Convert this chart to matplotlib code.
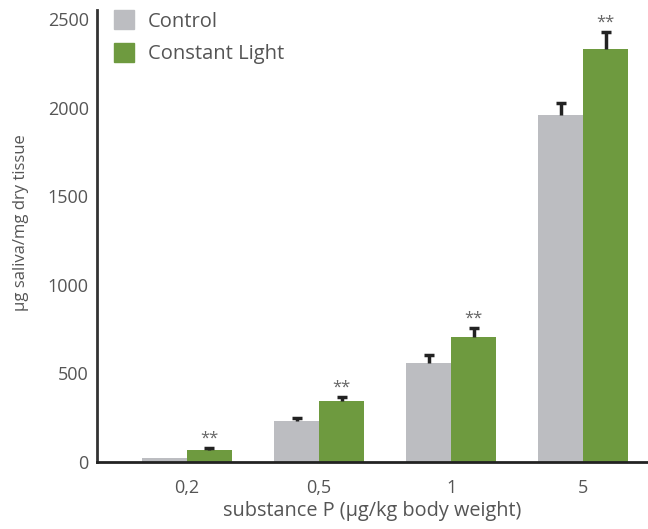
import numpy as np
import matplotlib.pyplot as plt
from matplotlib.patches import Patch

doses = ['0,2', '0,5', '1', '5']
control = [25, 232, 560, 1958]
control_err = [0, 18, 46, 68]
light = [70, 345, 708, 2333]
light_err = [10, 22, 50, 95]
stars = ['**', '**', '**', '**']

grey = '#bcbdc1'
green = '#6e9a3f'
txt = '#555555'

plt.rcParams['font.family'] = ['Open Sans', 'DejaVu Sans']

fig = plt.figure(figsize=(6.48, 5.29), dpi=100)
ax = fig.add_axes([0.150, 0.1267, 0.850, 0.854])

x = np.arange(len(doses))
w = 0.34
ax.bar(x - w / 2, control, w, color=grey, zorder=2)
ax.bar(x + w / 2, light, w, color=green, zorder=2)

# only the upper half of each error bar, like the original
for xs, vals, errs in [(x - w / 2, control, control_err), (x + w / 2, light, light_err)]:
    for xi, v, e in zip(xs, vals, errs):
        if e <= 0:
            continue
        ax.vlines(xi, v, v + e, color='#222222', lw=2.5, zorder=3)
        ax.plot(xi, v + e, marker='_', ms=7, mew=2.5, color='#222222', zorder=3)

for i in range(len(doses)):
    ax.annotate(stars[i], (x[i] + w / 2, light[i] + light_err[i]), xytext=(0, 1),
                textcoords='offset points', ha='center', va='bottom',
                fontsize=12, color='#666666')

ax.set_xlim(-0.68, 3.49)
ax.set_ylim(0, 2550)
ax.set_yticks([0, 500, 1000, 1500, 2000, 2500])
ax.set_xticks(x)
ax.set_xticklabels(doses)
ax.tick_params(length=0, labelsize=13, labelcolor=txt)
ax.tick_params(axis='x', pad=12)
ax.tick_params(axis='y', pad=6)
for s in ['top', 'right']:
    ax.spines[s].set_visible(False)
ax.spines['left'].set_linewidth(2)
ax.spines['bottom'].set_linewidth(2)
ax.spines['left'].set_color('#333333')
ax.spines['bottom'].set_color('#222222')

ax.set_ylabel('μg saliva/mg dry tissue', fontsize=12, color=txt)
ax.yaxis.set_label_coords(-0.124, 0.53)
ax.set_xlabel('substance P (μg/kg body weight)', fontsize=14.3, color=txt, labelpad=3)

handles = [Patch(color=grey, label='Control'), Patch(color=green, label='Constant Light')]
fig.legend(handles=handles, loc='upper left', bbox_to_anchor=(114 / 648, 1 - 10 / 529),
           frameon=False, fontsize=14.5, labelcolor=txt, handlelength=1.0,
           handleheight=1.1, handletextpad=0.7, labelspacing=0.55,
           borderpad=0, borderaxespad=0)

fig.savefig('out.png', dpi=100)
